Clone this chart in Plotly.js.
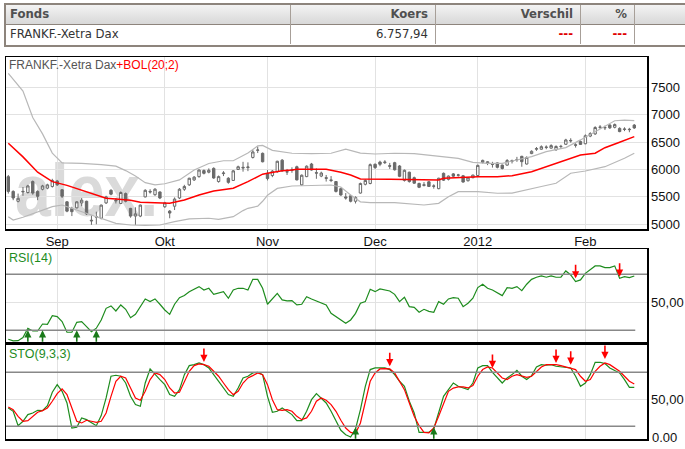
<!DOCTYPE html>
<html>
<head>
<meta charset="utf-8">
<script src="https://cdn.plot.ly/plotly-3.0.1.min.js"></script>
<style>
  html,body{margin:0;padding:0;background:#fff;}
  body{width:685px;height:449px;position:relative;overflow:hidden;}
  #wm{position:absolute;left:15px;top:171px;height:40px;font-family:'Liberation Sans',Arial,sans-serif;font-weight:bold;font-size:74px;line-height:40px;color:#dadada;z-index:0;white-space:nowrap;transform:scaleX(0.87);transform-origin:0 50%;}
  #chart{position:absolute;left:0;top:0;width:685px;height:449px;z-index:1;}
  .tb{position:absolute;z-index:2;}
  .txt{position:absolute;z-index:3;font-family:'Liberation Sans Narrow','Arial Narrow','DejaVu Sans Condensed',sans-serif;font-size:13px;line-height:20px;white-space:nowrap;}
  .hd{font-weight:bold;color:#505050;}
  .rw{color:#333;}
  .red{color:#e00000;font-weight:bold;}
</style>
</head>
<body>
<div id="wm">alex.</div>
<div id="chart"></div>

<!-- quote table -->
<div class="tb" style="left:4px;top:3px;width:700px;height:40px;border:2px solid #8d847c;background:#fff;"></div>
<div class="tb" style="left:6px;top:5px;width:700px;height:19px;background:linear-gradient(#f3f3f3,#d8d8d8);"></div>
<div class="tb" style="left:6px;top:24px;width:700px;height:1px;background:#8d847c;"></div>
<div class="tb" style="left:290px;top:5px;width:1px;height:39px;background:#a79f98;"></div>
<div class="tb" style="left:435px;top:5px;width:1px;height:39px;background:#a79f98;"></div>
<div class="tb" style="left:580px;top:5px;width:1px;height:39px;background:#a79f98;"></div>
<div class="tb" style="left:634px;top:5px;width:1px;height:39px;background:#a79f98;"></div>

<div class="txt hd" style="left:10px;top:4px;">Fonds</div>
<div class="txt hd" style="right:257px;top:4px;">Koers</div>
<div class="txt hd" style="right:112px;top:4px;">Verschil</div>
<div class="txt hd" style="right:58px;top:4px;">%</div>
<div class="txt rw" style="left:10px;top:24px;">FRANKF.-Xetra Dax</div>
<div class="txt rw" style="right:257px;top:24px;">6.757,94</div>
<div class="txt red" style="right:112px;top:24px;">---</div>
<div class="txt red" style="right:58px;top:24px;">---</div>

<script>
// ---------- data ----------
const dates = [
"2011-08-18","2011-08-19","2011-08-22","2011-08-23","2011-08-24","2011-08-25","2011-08-26","2011-08-29","2011-08-30","2011-08-31",
"2011-09-01","2011-09-02","2011-09-05","2011-09-06","2011-09-07","2011-09-08","2011-09-09","2011-09-12","2011-09-13","2011-09-14","2011-09-15","2011-09-16","2011-09-19","2011-09-20","2011-09-21","2011-09-22","2011-09-23","2011-09-26","2011-09-27","2011-09-28","2011-09-29","2011-09-30",
"2011-10-03","2011-10-04","2011-10-05","2011-10-06","2011-10-07","2011-10-10","2011-10-11","2011-10-12","2011-10-13","2011-10-14","2011-10-17","2011-10-18","2011-10-19","2011-10-20","2011-10-21","2011-10-24","2011-10-25","2011-10-26","2011-10-27","2011-10-28","2011-10-31",
"2011-11-01","2011-11-02","2011-11-03","2011-11-04","2011-11-07","2011-11-08","2011-11-09","2011-11-10","2011-11-11","2011-11-14","2011-11-15","2011-11-16","2011-11-17","2011-11-18","2011-11-21","2011-11-22","2011-11-23","2011-11-24","2011-11-25","2011-11-28","2011-11-29","2011-11-30",
"2011-12-01","2011-12-02","2011-12-05","2011-12-06","2011-12-07","2011-12-08","2011-12-09","2011-12-12","2011-12-13","2011-12-14","2011-12-15","2011-12-16","2011-12-19","2011-12-20","2011-12-21","2011-12-22","2011-12-23","2011-12-27","2011-12-28","2011-12-29","2011-12-30",
"2012-01-02","2012-01-03","2012-01-04","2012-01-05","2012-01-06","2012-01-09","2012-01-10","2012-01-11","2012-01-12","2012-01-13","2012-01-16","2012-01-17","2012-01-18","2012-01-19","2012-01-20","2012-01-23","2012-01-24","2012-01-25","2012-01-26","2012-01-27","2012-01-30","2012-01-31",
"2012-02-01","2012-02-02","2012-02-03","2012-02-06","2012-02-07","2012-02-08","2012-02-09","2012-02-10","2012-02-13","2012-02-14","2012-02-15"];

const openV = [5869,5600,5420,5590,5580,5780,5600,5640,5660,5690,
5790,5630,5410,5290,5300,5390,5420,5060,5130,5110,5390,5620,5440,5380,5560,5290,5150,5150,5500,5600,5540,5590,
5320,5240,5330,5480,5640,5720,5810,5870,5980,5950,6020,5780,5925,5840,5800,6000,6040,6035,6220,6350,6295,
5930,5890,5960,6170,5960,5985,6050,5720,5870,6100,5940,5880,5850,5810,5780,5650,5500,5520,5420,5570,5730,5745,
6095,6135,6125,6070,6124,6064,5800,5950,5850,5745,5710,5775,5700,5650,5930,5820,5920,5895,5885,5795,5850,
5890,6130,6140,6100,6120,6080,6080,6160,6180,6240,6100,6290,6370,6370,6410,6390,6360,6420,6460,6520,6450,6510,
6470,6610,6650,6775,6760,6810,6770,6750,6730,6735,6810];
const highV = [5900,5620,5560,5680,5720,5800,5620,5720,5740,5830,
5810,5640,5420,5320,5420,5480,5430,5160,5230,5360,5520,5640,5480,5600,5580,5300,5310,5360,5640,5640,5660,5600,
5410,5260,5490,5660,5720,5850,5880,6000,6000,6020,6040,5890,5970,5860,5990,6070,6140,6130,6360,6420,6310,
5990,5990,6160,6190,6010,6040,6070,5910,6075,6120,6020,5960,5900,5880,5790,5670,5570,5540,5510,5760,5820,6110,
6110,6160,6170,6120,6140,6080,6000,5960,5870,5760,5770,5790,5730,5850,5945,5890,5935,5920,5900,5860,5905,
6090,6180,6150,6140,6130,6090,6190,6180,6230,6250,6240,6350,6410,6440,6440,6460,6440,6450,6560,6570,6480,6530,
6640,6680,6790,6810,6800,6830,6840,6770,6770,6760,6830];
const lowV = [5560,5440,5400,5520,5560,5540,5440,5620,5640,5670,
5700,5480,5220,5150,5290,5330,5170,4990,5000,5090,5370,5530,5380,5370,5400,5120,4990,5130,5490,5560,5520,5460,
5300,5110,5260,5460,5610,5700,5790,5850,5910,5930,5830,5760,5880,5740,5790,5990,5960,5970,6200,6300,6130,
5800,5860,5940,5960,5900,5940,5800,5700,5860,5980,5830,5860,5780,5770,5580,5520,5450,5400,5380,5560,5710,5730,
6010,6060,6100,6010,5980,5860,5780,5760,5740,5660,5690,5680,5650,5640,5790,5800,5860,5870,5760,5780,5840,
5880,6110,6080,6035,6020,6000,6070,6110,6140,6050,6090,6280,6340,6360,6370,6380,6340,6380,6450,6490,6400,6450,
6460,6590,6630,6740,6720,6740,6750,6680,6700,6680,6740];
const closeV = [5600,5480,5474,5600,5700,5570,5510,5700,5720,5800,
5720,5510,5240,5230,5410,5440,5190,5072,5140,5350,5500,5550,5430,5580,5420,5150,5190,5350,5620,5590,5640,5480,
5390,5205,5460,5640,5690,5840,5860,5990,5930,5985,5845,5870,5935,5765,5975,6050,6030,6045,6320,6355,6141,
5834,5970,6150,5975,5955,5995,5810,5895,6060,5990,5935,5935,5840,5800,5600,5535,5480,5420,5490,5745,5800,6088,
6035,6095,6135,6060,5995,5875,5985,5780,5750,5675,5720,5690,5695,5840,5805,5880,5878,5900,5771,5848,5898,
6075,6166,6111,6095,6040,6018,6163,6152,6180,6143,6220,6332,6380,6416,6404,6436,6420,6421,6539,6530,6444,6458,
6616,6655,6766,6770,6765,6760,6820,6692,6738,6728,6758];

// Bollinger band (20;2) at sample days
const upperIdx = [0,3,5,7,9,11,15,19,22,24,26,28,30,32,35,38,41,44,46,49,51,52,54,58,62,66,69,72,75,79,83,86,89,92,95,98,101,107,110,114,117,120,122,124,126,128];
const upperVal = [7756,7430,6950,6650,6300,6120,6110,6090,6060,5980,5880,5760,5720,5740,5810,5990,6110,6160,6160,6300,6430,6440,6350,6296,6290,6296,6370,6300,6283,6296,6290,6260,6240,6204,6131,6113,6113,6234,6325,6400,6540,6690,6800,6890,6900,6891];
const midIdx = [0,3,6,9,12,15,17,20,22,25,27,31,33,36,39,42,46,49,52,53,56,58,59,65,68,70,72,78,84,88,89,92,96,100,103,107,110,113,117,120,122,125,128];
const midVal = [6478,6230,5950,5778,5710,5626,5566,5474,5462,5440,5401,5383,5383,5443,5535,5608,5657,5778,5915,5931,5978,5991,6004,6004,5950,5900,5827,5820,5808,5808,5840,5857,5869,5869,5887,5960,6051,6143,6265,6296,6398,6497,6599];
const lowerIdx = [0,1,3,6,9,11,13,16,18,22,25,28,31,34,37,41,43,46,48,49,51,52,53,55,58,62,66,68,70,72,74,79,85,88,90,92,96,100,103,109,112,115,118,122,126,128];
const lowerVal = [5139,5078,5128,5230,5321,5352,5292,5201,5128,5018,4987,4980,4987,5050,5097,5110,5090,5139,5250,5292,5330,5420,5530,5655,5699,5710,5717,5680,5535,5410,5395,5395,5352,5383,5504,5595,5595,5566,5570,5690,5748,5931,5973,6051,6204,6296];

// RSI(14)
const rsiV = [23.6,22.4,22.6,24.8,31.4,29.5,29.5,34.5,34.3,40.5,
39.8,36.2,28.6,28.6,35.7,36.2,32.6,29.0,31.5,37.4,
45.7,47.4,43.8,48.1,45.0,39.0,41.4,46.9,52.4,50.5,
52.4,48.6,44.5,41.4,48.6,53.3,54.8,57.6,59.3,61.2,
58.8,60.0,55.7,56.4,57.6,52.9,58.8,60.0,60.0,58.8,
66.4,66.4,60.0,48.6,52.4,56.4,51.7,51.0,51.2,48.1,
48.6,54.0,52.4,51.0,50.0,48.1,42.1,39.8,37.4,35.0,
37.4,42.1,49.3,50.5,59.3,57.6,59.5,59.0,58.1,55.7,
50.5,53.6,46.9,46.4,42.9,45.0,43.5,42.9,50.5,48.6,
52.4,53.3,52.9,46.9,49.3,52.9,60.5,62.9,60.0,58.8,
56.9,54.8,60.5,60.0,61.2,58.3,62.9,66.4,67.9,68.8,
67.9,68.8,67.9,67.9,72.4,69.5,64.8,66.0,70.7,73.1,
76.0,76.0,74.8,74.8,76.0,67.1,68.3,67.6,68.8];

// STO(9,3,3) %K and %D
const stoK = [40.4,36.7,20.7,25.6,33.0,34.8,37.8,37.4,43.0,57.8,
66.3,58.9,45.9,18.1,18.9,29.3,27.4,23.7,20.7,31.9,
51.5,75.6,76.7,75.6,68.1,53.3,44.1,42.2,68.1,83.7,
77.4,71.9,66.3,55.2,53.3,60.7,77.4,87.4,88.5,90.4,
88.5,84.8,77.4,70.0,62.6,55.2,53.3,62.6,73.7,75.6,
79.3,80.0,77.4,53.3,35.6,36.7,40.4,36.7,33.0,26.3,
26.3,36.7,49.6,56.3,51.5,45.9,36.7,25.6,15.6,10.7,
8.1,17.0,38.5,64.4,83.0,84.8,84.8,84.8,83.0,77.4,
70.0,64.4,47.8,34.8,13.3,13.3,13.3,17.0,34.8,53.3,
60.7,68.1,64.4,62.6,60.7,68.1,84.8,87.4,87.4,80.0,
73.7,68.1,73.7,77.4,82.2,75.6,71.9,76.3,85.9,88.5,
87.8,88.5,86.7,85.9,85.9,84.8,75.6,64.4,68.1,77.4,
91.1,91.1,89.6,84.8,81.9,79.3,71.9,63.3,63.3];
const stoD = [41.5,38.5,31.1,25.6,26.3,31.1,35.6,37.4,40.4,47.8,
56.3,61.5,55.2,40.4,25.6,23.7,26.7,25.6,24.4,25.6,
34.8,53.3,70.0,75.6,73.7,62.6,51.5,48.9,58.9,71.9,
79.3,77.4,71.9,62.6,57.0,57.8,70.0,81.1,87.4,89.3,
88.5,86.7,81.1,75.6,68.1,60.7,55.2,58.9,68.1,73.7,
76.3,79.3,77.4,66.3,49.6,38.5,37.8,38.5,36.7,31.1,
27.4,29.3,36.7,47.8,51.5,48.9,44.1,36.7,26.7,18.1,
13.3,11.9,23.7,47.8,70.0,79.3,83.7,84.1,83.7,79.3,
70.0,60.7,45.9,31.1,20.7,13.3,12.6,18.1,31.1,45.9,
58.9,62.5,63.7,63.7,62.6,65.2,75.6,83.0,85.9,84.8,
79.3,73.7,71.9,75.6,77.4,76.3,74.4,75.6,81.1,85.9,
88.5,88.5,88.5,87.4,85.9,84.8,83.0,75.6,70.0,71.9,
81.1,86.7,90.4,88.5,84.8,81.1,75.6,70.0,67.0];

// signals (day index, value at arrow tip)
const rsiBuyIdx = [4,7,14,18];
const rsiSellIdx = [116,125];
const rsiSellVal = [67.1,68.3];
const stoBuyIdx = [71,87];
const stoSellIdx = [40,78,99,112,115,122];
const stoSellVal = [91.4,86.7,84.8,90.3,88.5,94.8];

const tickDates = ["2011-09-01","2011-10-03","2011-11-01","2011-12-01","2012-01-02","2012-02-01"];
const tickText = ["Sep","Okt","Nov","Dec","2012","Feb"];
const priceTicks = [5000,5500,6000,6500,7000,7500];

// ---------- layout helpers ----------
const W = 685, H = 449;
const px = v => v / W;
const py = v => (H - v) / H;
const XD = [px(6), px(647)];
const FONT = "'Liberation Sans', Arial, sans-serif";
const GRID = '#e2e2e2';
const GREEN = '#1e8c1e';
const xr = [-0.47, 130.6];

const candleColor = '#6a6a6a';
const traces = [
  {type:'candlestick', x:dates, open:openV, high:highV, low:lowV, close:closeV,
   xaxis:'x', yaxis:'y', hoverinfo:'skip',
   increasing:{line:{color:candleColor,width:1}, fillcolor:'#ffffff'},
   decreasing:{line:{color:candleColor,width:1}, fillcolor:candleColor}},
  {type:'scatter', mode:'lines', x:upperIdx.map(i=>dates[i]), y:upperVal, xaxis:'x', yaxis:'y',
   line:{color:'#b8b8b8', width:1.2}, hoverinfo:'skip'},
  {type:'scatter', mode:'lines', x:lowerIdx.map(i=>dates[i]), y:lowerVal, xaxis:'x', yaxis:'y',
   line:{color:'#b8b8b8', width:1.2}, hoverinfo:'skip'},
  {type:'scatter', mode:'lines', x:midIdx.map(i=>dates[i]), y:midVal, xaxis:'x', yaxis:'y',
   line:{color:'#ff0000', width:1.5}, hoverinfo:'skip'},
  {type:'scatter', mode:'lines', x:dates, y:rsiV, xaxis:'x2', yaxis:'y2',
   line:{color:GREEN, width:1.2}, hoverinfo:'skip'},
  {type:'scatter', mode:'lines', x:dates, y:stoK, xaxis:'x3', yaxis:'y3',
   line:{color:GREEN, width:1.2}, hoverinfo:'skip'},
  {type:'scatter', mode:'lines', x:dates, y:stoD, xaxis:'x3', yaxis:'y3',
   line:{color:'#ff0000', width:1.2}, hoverinfo:'skip'}
];

function xAxis(anchor, labels){
  return {domain:XD, anchor:anchor, type:'category', categoryorder:'array', categoryarray:dates,
    range:xr, tickmode:'array', tickvals:tickDates, ticktext:tickText, showticklabels:labels,
    showgrid:true, gridcolor:GRID, gridwidth:1, ticks:'', showline:true, mirror:true,
    linecolor:'#000', linewidth:1.5, zeroline:false, fixedrange:true,
    tickfont:{family:FONT, size:13, color:'#111'}, rangeslider:{visible:false}};
}
function yAxis(dom, range, tv, tt){
  return {domain:dom, range:range, side:'right', tickmode:'array', tickvals:tv, ticktext:tt,
    showgrid:true, gridcolor:GRID, gridwidth:1, ticks:'', showline:true, mirror:true,
    linecolor:'#000', linewidth:1.5, zeroline:false, fixedrange:true,
    tickfont:{family:FONT, size:13, color:'#111'}};
}

const layout = {
  width:W, height:H, margin:{l:0,r:0,t:0,b:0},
  paper_bgcolor:'rgba(0,0,0,0)', plot_bgcolor:'rgba(0,0,0,0)',
  showlegend:false, hovermode:false,
  xaxis: xAxis('y', true),
  yaxis: yAxis([py(229), py(57)], [4914, 8053], priceTicks, priceTicks.map(String)),
  xaxis2: xAxis('y2', false),
  yaxis2: yAxis([py(342), py(249)], [21.64, 88.07], [50], ['50,00']),
  xaxis3: xAxis('y3', false),
  yaxis3: yAxis([py(439), py(345)], [5.9, 110.3], [50], ['50,00']),
  shapes: [
    {type:'line', xref:'x2 domain', yref:'y2', x0:0, x1:1, y0:70, y1:70, line:{color:'#888', width:1.5}},
    {type:'line', xref:'x2', yref:'y2', x0:-0.5, x1:128.2, y0:30, y1:30, line:{color:'#888', width:1.5}},
    {type:'line', xref:'x3 domain', yref:'y3', x0:0, x1:1, y0:80, y1:80, line:{color:'#888', width:1.5}},
    {type:'line', xref:'x3', yref:'y3', x0:-0.5, x1:128.2, y0:20, y1:20, line:{color:'#888', width:1.5}}
  ],
  annotations: [
    {xref:'paper', yref:'paper', x:px(7), y:py(65), xanchor:'left', yanchor:'middle', showarrow:false,
     text:'FRANKF.-Xetra Dax<span style="color:#ff0000">+BOL(20;2)</span>', font:{family:FONT, size:12, color:'#555'}},
    {xref:'paper', yref:'paper', x:px(7), y:py(258), xanchor:'left', yanchor:'middle', showarrow:false,
     text:'RSI(14)', font:{family:FONT, size:12.5, color:GREEN}},
    {xref:'paper', yref:'paper', x:px(7), y:py(354), xanchor:'left', yanchor:'middle', showarrow:false,
     text:'STO(9,3,3)', font:{family:FONT, size:12.5, color:GREEN}},
    {xref:'paper', yref:'paper', x:px(650), y:py(437), xanchor:'left', yanchor:'middle', showarrow:false,
     text:'0.00', font:{family:FONT, size:13, color:'#111'}}
  ]
};

function arrow(xa, ya, i, val, up){
  return {xref:xa, yref:ya, x:dates[i], y:val, text:'', showarrow:true, arrowhead:2, arrowsize:0.9,
    arrowwidth:1.6, arrowcolor: up ? '#1a7a1a' : '#ff0000', ax:0, ay: up ? 13 : -15, standoff:0, startstandoff:0};
}
rsiBuyIdx.forEach(i => layout.annotations.push(arrow('x2','y2',i,30,true)));
rsiSellIdx.forEach((i,k) => layout.annotations.push(arrow('x2','y2',i,rsiSellVal[k],false)));
stoBuyIdx.forEach(i => layout.annotations.push(arrow('x3','y3',i,19,true)));
stoSellIdx.forEach((i,k) => layout.annotations.push(arrow('x3','y3',i,stoSellVal[k],false)));

Plotly.newPlot('chart', traces, layout, {staticPlot:true, displayModeBar:false});
</script>
</body>
</html>
